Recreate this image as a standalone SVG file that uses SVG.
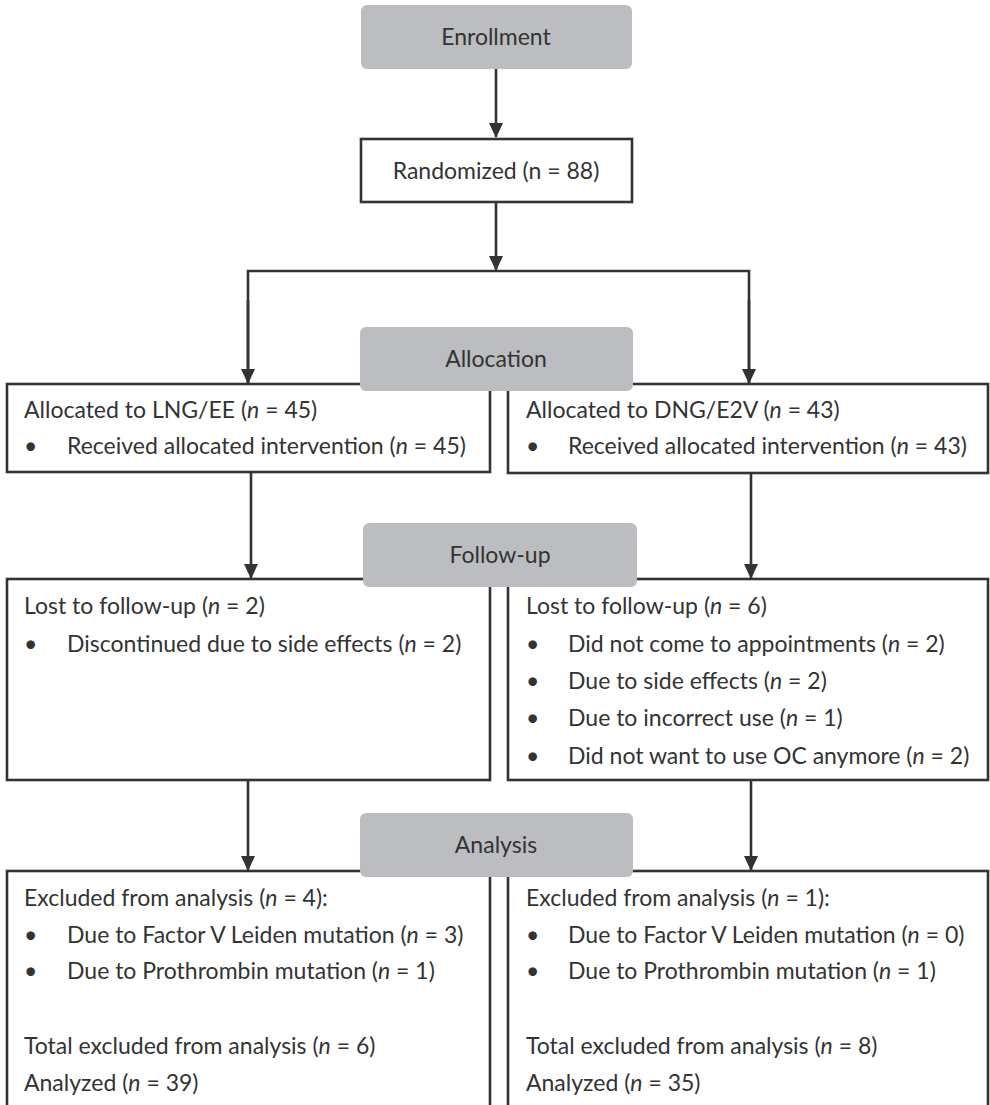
<svg xmlns="http://www.w3.org/2000/svg" width="990" height="1105" viewBox="0 0 990 1105">
<style>
text{font-family:"Lato","Liberation Sans",sans-serif;font-size:23px;fill:#333}
.c{text-anchor:middle}
.box{fill:#fff;stroke:#333;stroke-width:2.6}
.ph{fill:#bcbdc0}
.ln{fill:none;stroke:#333;stroke-width:2.6}
tspan.i{font-style:italic}
</style>
<defs>
<marker id="ah" markerUnits="userSpaceOnUse" markerWidth="16" markerHeight="16" refX="14" refY="7" orient="auto">
<path d="M0,0 L15,7 L0,14 Z" fill="#333"/>
</marker>
</defs>
<rect width="990" height="1105" fill="#fff"/>
<g id="connectors">
<path class="ln" d="M496,69 V137" marker-end="url(#ah)"/>
<path class="ln" d="M496,202 V270" marker-end="url(#ah)"/>
<path class="ln" d="M248,383 V271 H749 V383" />
<path class="ln" d="M248,300 V383" marker-end="url(#ah)"/>
<path class="ln" d="M749,300 V383" marker-end="url(#ah)"/>
<path class="ln" d="M251,472 V578" marker-end="url(#ah)"/>
<path class="ln" d="M751,473 V578" marker-end="url(#ah)"/>
<path class="ln" d="M248,780 V870" marker-end="url(#ah)"/>
<path class="ln" d="M751,780 V870" marker-end="url(#ah)"/>
</g>
<g id="randomized">
<rect class="box" x="361" y="139" width="271" height="63"/>
<text class="c" x="496" y="179">Randomized (n = 88)</text>
</g>
<g id="alloc-left">
<rect class="box" x="7" y="384" width="483" height="88"/>
<text x="24" y="418">Allocated to LNG/EE (<tspan class="i">n</tspan> = 45)</text>
<text x="24" y="454">•</text>
<text x="67" y="454">Received allocated intervention (<tspan class="i">n</tspan> = 45)</text>
</g>
<g id="alloc-right">
<rect class="box" x="508" y="384" width="480" height="89"/>
<text x="526" y="418">Allocated to DNG/E2V (<tspan class="i">n</tspan> = 43)</text>
<text x="526" y="454">•</text>
<text x="568" y="454">Received allocated intervention (<tspan class="i">n</tspan> = 43)</text>
</g>
<g id="follow-left">
<rect class="box" x="7" y="579" width="483" height="201"/>
<text x="24" y="614">Lost to follow-up (<tspan class="i">n</tspan> = 2)</text>
<text x="24" y="652">•</text>
<text x="67" y="652">Discontinued due to side effects (<tspan class="i">n</tspan> = 2)</text>
</g>
<g id="follow-right">
<rect class="box" x="508" y="579" width="480" height="201"/>
<text x="526" y="614">Lost to follow-up (<tspan class="i">n</tspan> = 6)</text>
<text x="526" y="652">•</text>
<text x="568" y="652">Did not come to appointments (<tspan class="i">n</tspan> = 2)</text>
<text x="526" y="689">•</text>
<text x="568" y="689">Due to side effects (<tspan class="i">n</tspan> = 2)</text>
<text x="526" y="726">•</text>
<text x="568" y="726">Due to incorrect use (<tspan class="i">n</tspan> = 1)</text>
<text x="526" y="764">•</text>
<text x="568" y="764">Did not want to use OC anymore (<tspan class="i">n</tspan> = 2)</text>
</g>
<g id="analysis-left">
<rect class="box" x="7" y="871" width="483" height="250"/>
<text x="24" y="906">Excluded from analysis (<tspan class="i">n</tspan> = 4):</text>
<text x="24" y="943">•</text>
<text x="67" y="943">Due to Factor V Leiden mutation (<tspan class="i">n</tspan> = 3)</text>
<text x="24" y="979">•</text>
<text x="67" y="979">Due to Prothrombin mutation (<tspan class="i">n</tspan> = 1)</text>
<text x="24" y="1054">Total excluded from analysis (<tspan class="i">n</tspan> = 6)</text>
<text x="24" y="1091">Analyzed (<tspan class="i">n</tspan> = 39)</text>
</g>
<g id="analysis-right">
<rect class="box" x="508" y="871" width="480" height="250"/>
<text x="526" y="906">Excluded from analysis (<tspan class="i">n</tspan> = 1):</text>
<text x="526" y="943">•</text>
<text x="568" y="943">Due to Factor V Leiden mutation (<tspan class="i">n</tspan> = 0)</text>
<text x="526" y="979">•</text>
<text x="568" y="979">Due to Prothrombin mutation (<tspan class="i">n</tspan> = 1)</text>
<text x="526" y="1054">Total excluded from analysis (<tspan class="i">n</tspan> = 8)</text>
<text x="526" y="1091">Analyzed (<tspan class="i">n</tspan> = 35)</text>
</g>
<g id="enrollment">
<rect class="ph" x="361" y="5" width="271" height="64" rx="6"/>
<text class="c" x="496" y="45">Enrollment</text>
</g>
<g id="allocation">
<rect class="ph" x="360" y="327" width="273" height="64" rx="6"/>
<text class="c" x="496" y="367">Allocation</text>
</g>
<g id="followup">
<rect class="ph" x="363" y="523" width="274" height="64" rx="6"/>
<text class="c" x="500" y="563">Follow-up</text>
</g>
<g id="analysis">
<rect class="ph" x="360" y="813" width="273" height="64" rx="6"/>
<text class="c" x="496" y="853">Analysis</text>
</g>
</svg>
